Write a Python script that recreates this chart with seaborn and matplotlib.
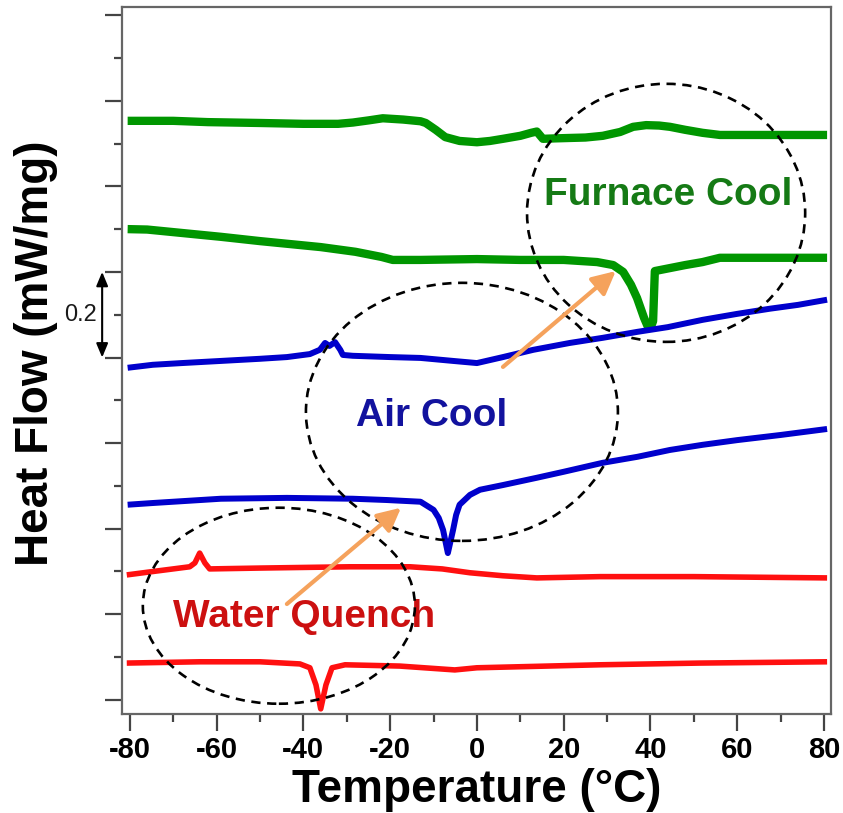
import numpy as np
import pandas as pd
import matplotlib
matplotlib.use("Agg")
import matplotlib.pyplot as plt
import matplotlib.transforms as mtransforms
from matplotlib.patches import Ellipse
from matplotlib.ticker import MultipleLocator
import seaborn as sns

# ---- DSC traces (temperature in °C, stacked heat flow in mW/mg) ----
furnace_heat_T = [-80.5, -70, -62, -50, -40, -32, -28.6, -25, -21.7, -17, -13, -11.8, -9.5, -7.3,
                  -4, 0, 3, 6, 10, 12.5, 13.8, 15.2, 18, 21.4, 25, 29, 33, 36, 39, 42, 44.5,
                  48, 52, 56, 65, 80.7]
furnace_heat_Q = [1.353, 1.353, 1.350, 1.348, 1.346, 1.346, 1.349, 1.354, 1.359, 1.356, 1.352,
                  1.348, 1.332, 1.315, 1.306, 1.303, 1.306, 1.311, 1.318, 1.325, 1.328, 1.311,
                  1.312, 1.313, 1.314, 1.318, 1.327, 1.339, 1.343, 1.342, 1.339, 1.332, 1.325,
                  1.320, 1.320, 1.320]

furnace_cool_T = [-80.5, -76, -70, -59, -50, -36, -28, -22, -19.4, -13, 0, 10, 20, 27.7, 31.4,
                  33.7, 35.5, 36.9, 38.5, 39.3, 40.3, 40.6, 41.0, 44.5, 48, 52, 56, 65, 80.7]
furnace_cool_Q = [1.100, 1.099, 1.093, 1.082, 1.072, 1.058, 1.047, 1.035, 1.028, 1.028, 1.030,
                  1.028, 1.028, 1.023, 1.016, 1.000, 0.970, 0.939, 0.893, 0.874, 0.877, 0.885,
                  1.002, 1.009, 1.016, 1.023, 1.033, 1.033, 1.033]

air_heat_T = [-80.5, -74.7, -68, -59, -50, -43.8, -38.5, -36.2, -35, -34, -32.7, -31.5, -30.9,
              -28.6, -20, -13, -5.5, 0, 6, 13, 21.4, 29, 37, 44, 52, 60, 67.5, 74, 80.7]
air_heat_Q = [0.776, 0.783, 0.787, 0.792, 0.797, 0.801, 0.808, 0.818, 0.834, 0.827, 0.836,
              0.818, 0.806, 0.804, 0.801, 0.799, 0.792, 0.787, 0.801, 0.818, 0.834, 0.846,
              0.860, 0.871, 0.888, 0.902, 0.914, 0.923, 0.935]

air_cool_T = [-80.5, -74.7, -59, -43.8, -28.6, -20.8, -13, -10, -8.8, -7.8, -6.7, -5.5, -4.8,
              -4, -1.6, 0.7, 6, 13.8, 20, 29, 37, 44.5, 52, 60, 70, 80.7]
air_cool_Q = [0.456, 0.460, 0.470, 0.472, 0.470, 0.467, 0.463, 0.444, 0.425, 0.397, 0.343,
              0.397, 0.432, 0.456, 0.479, 0.491, 0.502, 0.519, 0.533, 0.554, 0.568, 0.584,
              0.596, 0.607, 0.619, 0.633]

water_heat_T = [-80.7, -75.4, -66.2, -65, -63.9, -62.7, -61.6, -50, -29.3, -15.4, -8, -1.6,
                6, 13.8, 28.4, 50, 80.7]
water_heat_Q = [0.292, 0.299, 0.311, 0.320, 0.343, 0.320, 0.306, 0.308, 0.311, 0.311, 0.306,
                0.297, 0.290, 0.285, 0.288, 0.288, 0.285]

water_cool_T = [-80.7, -63.9, -50, -40.8, -38.5, -37.1, -36, -34.8, -33.4, -30.4, -17.8, -5.1,
                0, 28.4, 51.4, 80.7]
water_cool_Q = [0.086, 0.089, 0.089, 0.084, 0.075, 0.035, -0.021, 0.035, 0.075, 0.082, 0.079,
                0.070, 0.075, 0.082, 0.086, 0.089]

x_ticks = [-80, -60, -40, -20, 0, 20, 40, 60, 80]

sns.set_style("white")
plt.rcParams["font.family"] = ["Liberation Sans", "DejaVu Sans"]
plt.rcParams["text.color"] = "black"
plt.rcParams["axes.labelcolor"] = "black"
plt.rcParams["xtick.color"] = "black"
plt.rcParams["ytick.color"] = "black"

fig = plt.figure(figsize=(8.43, 8.13), dpi=100)
ax = fig.add_axes([122 / 843, 1 - 714 / 813, 709 / 843, 707 / 813])

GREEN, BLUE, RED = "#009600", "#0000cc", "#ff1010"
traces = [
    (furnace_heat_T, furnace_heat_Q, GREEN, 6.0),
    (furnace_cool_T, furnace_cool_Q, GREEN, 6.0),
    (air_heat_T, air_heat_Q, BLUE, 4.3),
    (air_cool_T, air_cool_Q, BLUE, 4.3),
    (water_heat_T, water_heat_Q, RED, 4.0),
    (water_cool_T, water_cool_Q, RED, 4.0),
]
for T, Q, c, lw in traces:
    df = pd.DataFrame({"T": T, "Q": Q})
    sns.lineplot(data=df, x="T", y="Q", color=c, linewidth=lw, estimator=None,
                 sort=False, ax=ax, solid_joinstyle="round", solid_capstyle="butt")

ax.set_xlim(-81.8, 81.6)
ax.set_ylim(-0.033, 1.619)
ax.set_xticks(x_ticks)
ax.set_xticklabels([str(t) for t in x_ticks], fontsize=21, fontweight="bold", color="black")
ax.xaxis.set_minor_locator(MultipleLocator(10))
ax.yaxis.set_major_locator(MultipleLocator(0.2))
ax.yaxis.set_minor_locator(MultipleLocator(0.1))
ax.set_yticklabels([])
ax.tick_params(which="major", direction="out", length=12, width=1.6, color="#444444",
               bottom=True, left=True, top=False, right=False, pad=4)
ax.tick_params(which="minor", direction="out", length=6, width=1.6, color="#444444",
               bottom=True, left=True, top=False, right=False)
for s in ax.spines.values():
    s.set_color("#666666")
    s.set_linewidth(1.6)
    s.set_visible(True)

ax.set_xlabel("Temperature (°C)", fontsize=33, fontweight="bold", color="black")
ax.set_ylabel("Heat Flow (mW/mg)", fontsize=33, fontweight="bold", color="black")
ax.xaxis.set_label_coords(0.5, -0.1075)
ax.xaxis.label.set_va("center")
ax.yaxis.set_label_coords(-0.121, 0.51)
ax.yaxis.label.set_va("center")

# dashed ellipses grouping each cooling condition
for (cx, cy, w, h) in [(43.6, 1.138, 64.1, 0.603), (-3.46, 0.673, 71.9, 0.603),
                       (-45.65, 0.220, 62.7, 0.458)]:
    ax.add_patch(Ellipse((cx, cy), w, h, fill=False, edgecolor="black", lw=1.9,
                         linestyle=(0, (3.5, 2.5)), zorder=4))

ax.text(44.0, 1.180, "Furnace Cool", color="#157a15", fontsize=28, fontweight="bold",
        ha="center", va="center")
ax.text(-10.4, 0.664, "Air Cool", color="#12129e", fontsize=28, fontweight="bold",
        ha="center", va="center")
ax.text(-39.9, 0.194, "Water Quench", color="#cc1010", fontsize=28, fontweight="bold",
        ha="center", va="center")

ORANGE = "#f5a25c"
for tail, head in [((6.0, 0.778), (32.0, 1.002)), ((-43.8, 0.224), (-17.5, 0.449))]:
    ax.annotate("", xy=head, xytext=tail,
                arrowprops=dict(arrowstyle="-|>,head_length=0.7,head_width=0.35",
                                color=ORANGE, lw=3, mutation_scale=20,
                                shrinkA=0, shrinkB=0), zorder=5)

# 0.2 mW/mg scale bar beside the axis
blend = mtransforms.blended_transform_factory(ax.transAxes, ax.transData)
ax.annotate("", xy=(-0.028, 1.0), xytext=(-0.028, 0.8), xycoords=blend, textcoords=blend,
            arrowprops=dict(arrowstyle="<|-|>,head_length=0.6,head_width=0.25", color="black",
                            lw=1.5, mutation_scale=14, shrinkA=0, shrinkB=0),
            annotation_clip=False)
ax.text(-0.059, 0.9, "0.2", transform=blend, fontsize=17, color="#1a1a1a",
        ha="center", va="center", clip_on=False)

fig.savefig("out.png", dpi=100)
